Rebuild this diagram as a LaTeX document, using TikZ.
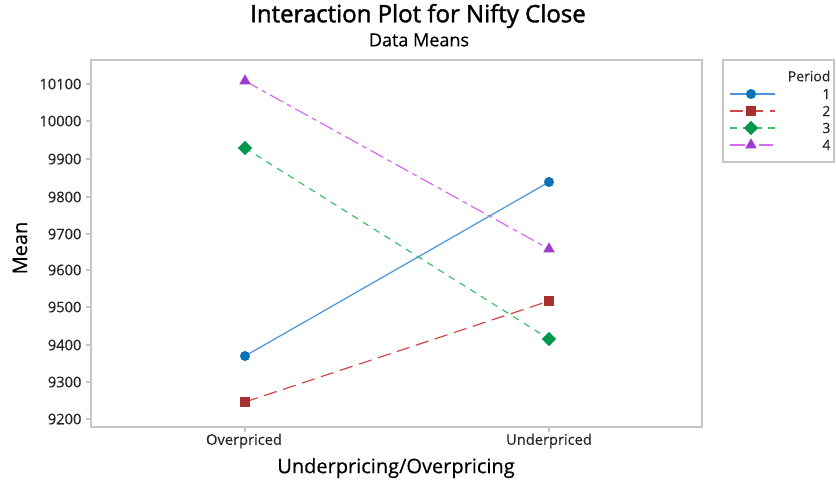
\documentclass[tikz,border=0pt]{standalone}
\usepackage{fontspec}
\setmainfont{Open Sans}[FakeBold=0.4]
\newfontfamily\ttlfont{Open Sans}[FakeBold=1.6]
\usetikzlibrary{shapes.geometric}
\definecolor{mblue}{HTML}{0B72B5}
\definecolor{lblue}{HTML}{4A94DC}
\definecolor{mred}{HTML}{A8302F}
\definecolor{lred}{HTML}{D04848}
\definecolor{mgreen}{HTML}{00984A}
\definecolor{lgreen}{HTML}{3CC068}
\definecolor{mpurp}{HTML}{A13BD0}
\definecolor{lpurp}{HTML}{D46CF2}
\definecolor{frame}{HTML}{C6C6C6}
\definecolor{txt}{HTML}{262626}
\tikzset{
  mk1/.style={circle, fill=mblue, inner sep=0pt, minimum size=7.5pt},
  mk2/.style={rectangle, fill=mred, inner sep=0pt, minimum size=8pt},
  mk3/.style={diamond, fill=mgreen, inner sep=0pt, minimum size=11pt},
  mk4/.style={regular polygon, regular polygon sides=3, fill=mpurp, inner sep=0pt, minimum size=10pt},
  ln1/.style={lblue, line width=0.9pt},
  ln2/.style={lred, line width=0.9pt, dash pattern=on 10pt off 5pt},
  ln3/.style={lgreen, line width=0.9pt, dash pattern=on 5pt off 4.5pt},
  ln4/.style={lpurp, line width=0.9pt, dash pattern=on 11pt off 3.5pt on 3.5pt off 3.5pt},
  ticklab/.style={font=\fontsize{11}{13}\selectfont, text=txt, inner sep=1pt},
  legtxt/.style={font=\fontsize{10.5}{12}\selectfont, text=txt, inner sep=1pt},
  tickmk/.style={draw=frame, line width=0.8pt},
}
\begin{document}
\begin{tikzpicture}[x=0.75pt,y=-0.75pt]
\useasboundingbox[fill=white] (0,0) rectangle (836,480);
% titles
\node[font=\ttlfont\fontsize{18}{21}\selectfont, text=black] (title) at (418,16) {Interaction Plot for Nifty Close};
\node[font=\fontsize{13.5}{16}\selectfont, text=black] (sub) at (419,40) {Data Means};
% frame
\draw[frame, line width=0.9pt] (91,60) rectangle (702,427);
% y ticks
\foreach \v/\yy in {9200/419,9300/382,9400/345,9500/307,9600/270,9700/234,9800/197,9900/159,10000/121,10100/84}{
  \draw[tickmk] (86,\yy) -- (91,\yy);
  \node[ticklab, anchor=east] (yt\v) at (83,\yy) {\v};
}
% x ticks
\draw[tickmk] (245,427) -- (245,432);
\draw[tickmk] (549,427) -- (549,432);
\node[ticklab] (xo) at (244,441) {Overpriced};
\node[ticklab] (xu) at (549,441) {Underpriced};
% axis titles
\node[font=\fontsize{15}{18}\selectfont, text=black] (xtitle) at (396,468) {Underpricing/Overpricing};
\node[font=\fontsize{15}{18}\selectfont, text=black, rotate=90] (ytitle) at (20,248) {Mean};
% data points
\coordinate (o1) at (245,356);
\coordinate (u1) at (549,182);
\coordinate (o2) at (245,402);
\coordinate (u2) at (549,301);
\coordinate (o3) at (245,148);
\coordinate (u3) at (549,339);
\coordinate (o4) at (245,81);
\coordinate (u4) at (549,249);
\draw[ln1] (o1) -- (u1);
\draw[ln2] (o2) -- (u2);
\draw[ln3] (o3) -- (u3);
\draw[ln4] (o4) -- (u4);
\node[mk1] (po1) at (o1) {};
\node[mk1] (pu1) at (u1) {};
\node[mk2] (po2) at (o2) {};
\node[mk2] (pu2) at (u2) {};
\node[mk3] (po3) at (o3) {};
\node[mk3] (pu3) at (u3) {};
\node[mk4] (po4) at (o4) {};
\node[mk4] (pu4) at (u4) {};
% legend
\draw[frame, line width=0.9pt] (723,60) rectangle (834,162);
\node[legtxt, anchor=east] (legtitle) at (832,76) {Period};
\foreach \i/\yy in {1/94,2/111,3/128,4/145}{
  \coordinate (la\i) at (730,\yy);
  \coordinate (lb\i) at (775,\yy);
  \draw[ln\i] (la\i) -- (lb\i);
  \node[mk\i] (lm\i) at (751,\yy) {};
  \node[legtxt, anchor=east] (ll\i) at (832,\yy) {\i};
}
\end{tikzpicture}
\end{document}
